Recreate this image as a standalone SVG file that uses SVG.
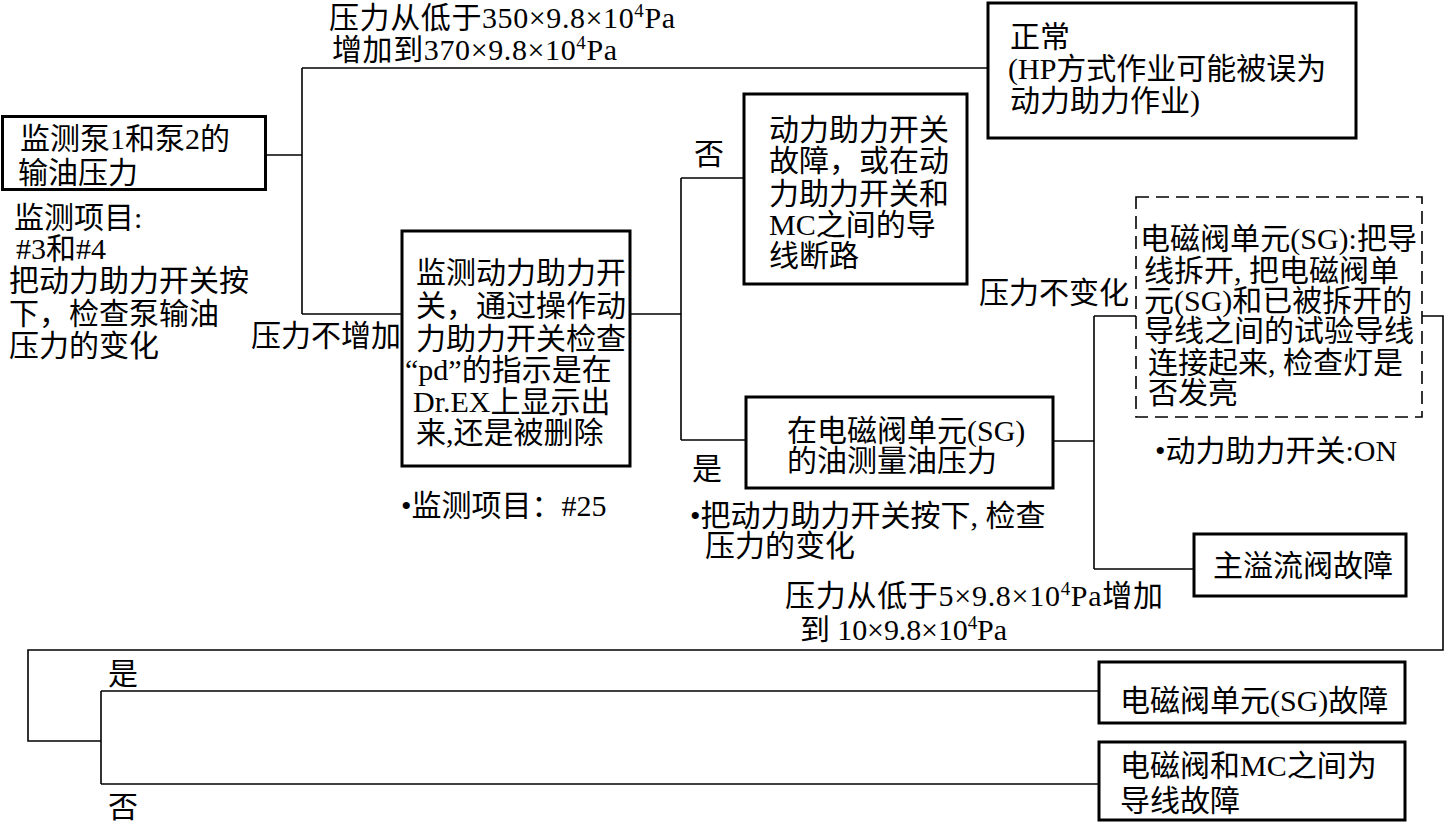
<svg xmlns="http://www.w3.org/2000/svg" width="1445" height="823" viewBox="0 0 1445 823">
<style>
text { font-family: "Liberation Serif", "Noto Sans CJK SC", serif; font-size: 30px; fill: #000; }
.box { fill: #fff; stroke: #000; stroke-width: 3; }
.dash { fill: none; stroke: #000; stroke-width: 1.6; stroke-dasharray: 13 7; }
.conn { fill: none; stroke: #000; stroke-width: 1.6; }
.sup { font-size: 19px; }
</style>
<rect width="1445" height="823" fill="#fff"/>

<g id="connectors">
  <path class="conn" d="M265,155 H302"/>
  <path class="conn" d="M302,68 V314"/>
  <path class="conn" d="M302,68 H988"/>
  <path class="conn" d="M302,314 H402"/>
  <path class="conn" d="M630,314 H681"/>
  <path class="conn" d="M681,178 V440"/>
  <path class="conn" d="M681,178 H744"/>
  <path class="conn" d="M681,440 H746"/>
  <path class="conn" d="M1053,441 H1094"/>
  <path class="conn" d="M1094,316 V569"/>
  <path class="conn" d="M1094,316 H1136"/>
  <path class="conn" d="M1094,569 H1194"/>
  <path class="conn" d="M1422,316 H1443 V650 H28 V741 H101"/>
  <path class="conn" d="M101,691 V784"/>
  <path class="conn" d="M101,691 H1099"/>
  <path class="conn" d="M101,784 H1099"/>
</g>

<g id="edge-labels">
  <text x="329" y="28" textLength="346" lengthAdjust="spacing">压力从低于350×9.8×10<tspan class="sup" dy="-11">4</tspan><tspan dy="11">Pa</tspan></text>
  <text x="332" y="60" textLength="285" lengthAdjust="spacing">增加到370×9.8×10<tspan class="sup" dy="-11">4</tspan><tspan dy="11">Pa</tspan></text>
  <text x="251" y="346">压力不增加</text>
  <text x="694" y="164">否</text>
  <text x="692" y="479">是</text>
  <text x="979" y="303">压力不变化</text>
  <text x="785" y="606" textLength="378" lengthAdjust="spacing">压力从低于5×9.8×10<tspan class="sup" dy="-11">4</tspan><tspan dy="11">Pa增加</tspan></text>
  <text x="800" y="640" textLength="207" lengthAdjust="spacing">到 10×9.8×10<tspan class="sup" dy="-11">4</tspan><tspan dy="11">Pa</tspan></text>
  <text x="108" y="684">是</text>
  <text x="108" y="817">否</text>
</g>

<g id="node-monitor-pump">
  <rect class="box" x="2.5" y="116.5" width="263" height="73"/>
  <text x="20" y="149">监测泵1和泵2的</text>
  <text x="18" y="183">输油压力</text>
  <text x="14" y="228">监测项目:</text>
  <text x="16" y="259">#3和#4</text>
  <text x="9" y="291">把动力助力开关按</text>
  <text x="9" y="324">下，检查泵输油</text>
  <text x="9" y="356">压力的变化</text>
</g>

<g id="node-normal">
  <rect class="box" x="988" y="3" width="368" height="135"/>
  <text x="1010" y="47">正常</text>
  <text x="1008" y="79">(HP方式作业可能被误为</text>
  <text x="1010" y="111">动力助力作业)</text>
</g>

<g id="node-monitor-switch">
  <rect class="box" x="402" y="231" width="228" height="235"/>
  <text x="416" y="283">监测动力助力开</text>
  <text x="416" y="316">关，通过操作动</text>
  <text x="416" y="349">力助力开关检查</text>
  <text x="405" y="380">“pd”的指示是在</text>
  <text x="413" y="412">Dr.EX上显示出</text>
  <text x="416" y="443">来,还是被删除</text>
  <text x="401" y="516">•监测项目：#25</text>
</g>

<g id="node-switch-fault">
  <rect class="box" x="744" y="94" width="223" height="190"/>
  <text x="769" y="140">动力助力开关</text>
  <text x="769" y="171">故障，或在动</text>
  <text x="769" y="204">力助力开关和</text>
  <text x="769" y="235">MC之间的导</text>
  <text x="769" y="266">线断路</text>
</g>

<g id="node-measure-sg">
  <rect class="box" x="746" y="397" width="307" height="91"/>
  <text x="787" y="441">在电磁阀单元(SG)</text>
  <text x="787" y="471">的油测量油压力</text>
  <text x="690" y="526">•把动力助力开关按下, 检查</text>
  <text x="705" y="556">压力的变化</text>
</g>

<g id="node-test-lamp">
  <rect class="dash" x="1136" y="197" width="286" height="220"/>
  <text x="1140" y="249" textLength="277" lengthAdjust="spacingAndGlyphs">电磁阀单元(SG):把导</text>
  <text x="1144" y="281">线拆开, 把电磁阀单</text>
  <text x="1144" y="311">元(SG)和已被拆开的</text>
  <text x="1144" y="341">导线之间的试验导线</text>
  <text x="1148" y="373">连接起来, 检查灯是</text>
  <text x="1148" y="403">否发亮</text>
  <text x="1155" y="461">•动力助力开关:ON</text>
</g>

<g id="node-relief-fault">
  <rect class="box" x="1194" y="534" width="212" height="62"/>
  <text x="1213" y="576">主溢流阀故障</text>
</g>

<g id="node-sg-fault">
  <rect class="box" x="1099" y="662" width="306" height="61"/>
  <text x="1120" y="711">电磁阀单元(SG)故障</text>
</g>

<g id="node-wire-fault">
  <rect class="box" x="1099" y="742" width="306" height="78"/>
  <text x="1120" y="776">电磁阀和MC之间为</text>
  <text x="1120" y="811">导线故障</text>
</g>
</svg>
